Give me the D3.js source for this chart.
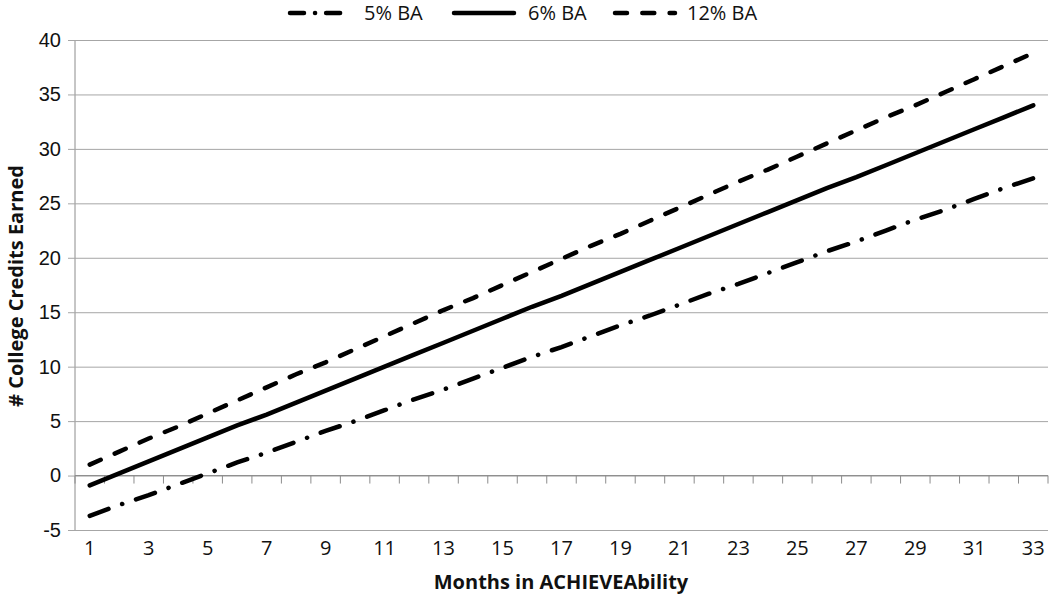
<!DOCTYPE html>
<html>
<head>
<meta charset="utf-8">
<script src="https://cdn.jsdelivr.net/npm/d3@7"></script>
<style>
  body { margin: 0; background: #fff; }
  svg { display: block; font-family: "Open Sans", sans-serif; }
</style>
</head>
<body>
<div id="chart"></div>
<script>
const months = d3.range(1, 34);
const yTicks = [-5, 0, 5, 10, 15, 20, 25, 30, 35, 40];
const seriesNames = ["5% BA", "6% BA", "12% BA"];

// values, one per month
const ba5 = [-3.7, -2.7, -1.8, -0.8, 0.2, 1.2, 2.1, 3.1, 4.1, 5.0, 6.0, 7.0, 7.9, 8.9, 9.9, 10.9, 11.8,
  12.8, 13.8, 14.7, 15.7, 16.7, 17.6, 18.6, 19.6, 20.6, 21.5, 22.5, 23.5, 24.4, 25.4, 26.4, 27.3];
const ba6 = [-0.9, 0.2, 1.3, 2.4, 3.5, 4.6, 5.6, 6.7, 7.8, 8.9, 10.0, 11.1, 12.2, 13.3, 14.4, 15.5, 16.5,
  17.6, 18.7, 19.8, 20.9, 22.0, 23.1, 24.2, 25.3, 26.4, 27.4, 28.5, 29.6, 30.7, 31.8, 32.9, 34.0];
const ba12 = [1.0, 2.2, 3.4, 4.5, 5.7, 6.9, 8.1, 9.3, 10.4, 11.6, 12.8, 14.0, 15.2, 16.3, 17.5, 18.7, 19.9,
  21.1, 22.2, 23.4, 24.6, 25.8, 27.0, 28.1, 29.3, 30.5, 31.7, 32.9, 34.0, 35.2, 36.4, 37.6, 38.8];

const width = 1050, height = 595,
    marginLeft = 75, marginRight = 2, marginTop = 40, marginBottom = 65;

const dashes = ["20,14.5,0.1,14.5", null, "12,15.3"];
const seriesData = [ba5, ba6, ba12];

const x = d3.scalePoint(months, [marginLeft, width - marginRight]).padding(0.5);
const y = d3.scaleLinear([-5, 40], [height - marginBottom, marginTop]);
const step = x.step();

const svg = d3.select("#chart").append("svg")
    .attr("width", width)
    .attr("height", height)
    .attr("viewBox", [0, 0, width, height]);

// gridlines + y axis
svg.append("g")
    .attr("transform", `translate(${marginLeft},0)`)
    .call(d3.axisLeft(y).tickValues(yTicks).tickSize(7).tickPadding(7)
        .tickFormat(d => d < 0 ? "-" + Math.abs(d) : d))
    .call(g => g.select(".domain").attr("stroke", "#8c8c8c").attr("d", `M0,${y(40)}V${y(-5)}`))
    .call(g => g.selectAll(".tick line").attr("stroke", "#a6a6a6"))
    .call(g => g.selectAll(".tick line").clone()
        .attr("x1", 0)
        .attr("x2", width - marginRight - marginLeft)
        .attr("stroke", "#a6a6a6"))
    .call(g => g.selectAll(".tick text").attr("font-size", 20).attr("fill", "#111"));

// category axis crossing at zero
const bounds = d3.range(months.length + 1).map(i => marginLeft + i * step);
const xAxisG = svg.append("g");
xAxisG.append("line")
    .attr("x1", marginLeft).attr("x2", width - marginRight)
    .attr("y1", y(0)).attr("y2", y(0))
    .attr("stroke", "#8c8c8c");
xAxisG.selectAll(".bt")
    .data(bounds)
    .join("line")
    .attr("x1", d => d).attr("x2", d => d)
    .attr("y1", y(0)).attr("y2", y(0) + 8)
    .attr("stroke", "#8c8c8c");

// month labels below plot
svg.append("g")
    .attr("font-size", 20)
    .attr("fill", "#111")
    .attr("text-anchor", "middle")
    .selectAll("text")
    .data(months.filter(m => m % 2 === 1))
    .join("text")
    .attr("x", d => x(d))
    .attr("y", y(-5) + 25)
    .text(d => d);

// lines
const line = d3.line().x((d, i) => x(months[i])).y(d => y(d));
svg.append("g")
    .selectAll("path")
    .data(seriesData)
    .join("path")
    .attr("fill", "none")
    .attr("stroke", "#000")
    .attr("stroke-width", 4.5)
    .attr("stroke-linecap", "round")
    .attr("stroke-dasharray", (d, i) => dashes[i])
    .attr("d", line);

// axis titles
svg.append("text")
    .attr("x", 561)
    .attr("y", 589)
    .attr("text-anchor", "middle")
    .attr("font-size", 20)
    .attr("font-weight", "bold")
    .attr("fill", "#111")
    .text("Months in ACHIEVEAbility");

svg.append("text")
    .attr("transform", `translate(23,286) rotate(-90)`)
    .attr("text-anchor", "middle")
    .attr("font-size", 20)
    .attr("font-weight", "bold")
    .attr("fill", "#111")
    .text("# College Credits Earned");

// legend
const legendX = [288, 452, 613];
const legend = svg.append("g")
    .selectAll("g")
    .data(seriesNames)
    .join("g")
    .attr("transform", (d, i) => `translate(${legendX[i]},13)`);
legend.append("line")
    .attr("x1", 2).attr("x2", 62)
    .attr("stroke", "#000")
    .attr("stroke-width", 4.5)
    .attr("stroke-linecap", "round")
    .attr("stroke-dasharray", (d, i) => i === 0 ? "14,11,0.1,11" : dashes[i]);
legend.append("text")
    .attr("x", (d, i) => i === 2 ? 74 : 76)
    .attr("dy", "0.35em")
    .attr("font-size", 20)
    .attr("fill", "#111")
    .text(d => d);
</script>
</body>
</html>
